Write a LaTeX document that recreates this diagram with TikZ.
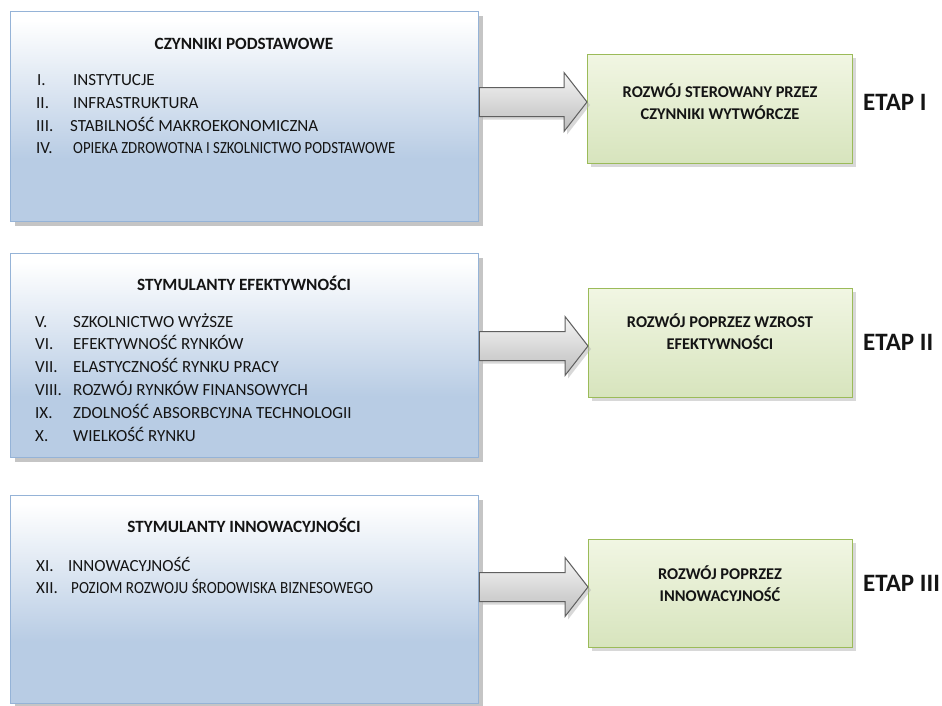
\documentclass[tikz,border=0pt]{standalone}
\usepackage{fontspec}
\setmainfont{Carlito}
\usetikzlibrary{shadows,calc}
\definecolor{blueB}{HTML}{B8CCE4}
\definecolor{blueLine}{HTML}{95B3D7}
\definecolor{greenT}{HTML}{F1F6E3}
\definecolor{greenB}{HTML}{D7E4BD}
\definecolor{greenLine}{HTML}{9BBB59}
\definecolor{arrLine}{HTML}{5F5F5F}
\definecolor{arrB}{HTML}{BDBDBD}
\definecolor{txt}{HTML}{141414}
\pgfdeclareverticalshading{blueshade}{100bp}{color(0bp)=(blueB); color(25bp)=(blueB); color(40bp)=(blueB); color(73bp)=(white); color(100bp)=(white)}
\begin{document}
\begin{tikzpicture}[x=1pt,y=-1pt,
  bluebox/.style={draw=blueLine, line width=1.3pt, shade, shading=blueshade,
    drop shadow={shadow xshift=4pt, shadow yshift=-4pt, fill=black!45},
    anchor=north west, inner sep=0pt},
  greenbox/.style={draw=greenLine, line width=1pt, top color=greenT, bottom color=greenB,
    drop shadow={shadow xshift=3pt, shadow yshift=-3pt, fill=black!30},
    anchor=north west, inner sep=0pt},
  blockarrow/.style={draw=arrLine, line width=1pt, top color=white!96!black, bottom color=arrB,
    drop shadow={shadow xshift=3pt, shadow yshift=-3pt, fill=black!30},
    to path={let \p1=(\tikztostart), \p2=(\tikztotarget) in
      (\x1,\y1+14.5pt) -- (\x2-23pt,\y1+14.5pt) -- (\x2-23pt,\y1+29.5pt) -- (\x2,\y1)
      -- (\x2-23pt,\y1-29.5pt) -- (\x2-23pt,\y1-14.5pt) -- (\x1,\y1-14.5pt) -- cycle}},
  boxtitle/.style={font=\fontsize{17.2}{20}\selectfont\bfseries, text=txt, inner sep=0pt, text height=11pt, text depth=0pt},
  item/.style={font=\fontsize{17}{20}\selectfont, text=txt, anchor=west, inner sep=0pt, text height=11pt, text depth=0pt},
  gtext/.style={font=\fontsize{16.4}{22}\selectfont\bfseries, text=txt, align=center, inner sep=0pt},
  etap/.style={font=\fontsize{25}{28}\selectfont\bfseries, text=txt, anchor=west, inner sep=0pt, text height=16pt, text depth=0pt}
]
\useasboundingbox (0,0) rectangle (942,705);
\fill[white] (0,0) rectangle (942,705);

% left boxes
\node[bluebox, minimum width=468pt, minimum height=210pt] (b1) at (10,11) {};
\node[bluebox, minimum width=468pt, minimum height=204pt] (b2) at (10,253) {};
\node[bluebox, minimum width=468pt, minimum height=208pt] (b3) at (10,495) {};

% right boxes
\node[greenbox, minimum width=265pt, minimum height=109pt] (g1) at (587,54) {};
\node[greenbox, minimum width=264pt, minimum height=109pt] (g2) at (588,288) {};
\node[greenbox, minimum width=264pt, minimum height=108pt] (g3) at (588,539) {};

% arrows
\coordinate (y1) at (0,102);
\coordinate (y2) at (0,346);
\coordinate (y3) at (0,587);
\draw[blockarrow] (b1.east |- y1) to (g1.west |- y1);
\draw[blockarrow] (b2.east |- y2) to (g2.west |- y2);
\draw[blockarrow] (b3.east |- y3) to (g3.west |- y3);

% box 1 text
\node[boxtitle] (t1) at (244,44) {CZYNNIKI PODSTAWOWE};
\node[item] (n1) at (37,80) {I.};
\node[item] (i1) at (73,80) {INSTYTUCJE};
\node[item] (n2) at (36,103) {II.};
\node[item] (i2) at (73,103) {INFRASTRUKTURA};
\node[item] (n3) at (36,126) {III.};
\node[item] (i3) at (70,126) {STABILNOŚĆ MAKROEKONOMICZNA};
\node[item] (n4) at (36,148) {IV.};
\node[item] (i4) at (73,148) {\resizebox{322pt}{\height}{OPIEKA ZDROWOTNA I SZKOLNICTWO PODSTAWOWE}};

% box 2 text
\node[boxtitle] (t2) at (244,285) {STYMULANTY EFEKTYWNOŚCI};
\node[item] (n5) at (35,322) {V.};
\node[item] (i5) at (73,322) {SZKOLNICTWO WYŻSZE};
\node[item] (n6) at (35,344) {VI.};
\node[item] (i6) at (73,344) {EFEKTYWNOŚĆ RYNKÓW};
\node[item] (n7) at (35,367) {VII.};
\node[item] (i7) at (73,367) {ELASTYCZNOŚĆ RYNKU PRACY};
\node[item] (n8) at (35,390) {VIII.};
\node[item] (i8) at (73,390) {ROZWÓJ RYNKÓW FINANSOWYCH};
\node[item] (n9) at (35,413) {IX.};
\node[item] (i9) at (73,413) {ZDOLNOŚĆ ABSORBCYJNA TECHNOLOGII};
\node[item] (n10) at (35,436) {X.};
\node[item] (i10) at (73,436) {WIELKOŚĆ RYNKU};

% box 3 text
\node[boxtitle] (t3) at (244,527) {STYMULANTY INNOWACYJNOŚCI};
\node[item] (n11) at (36,566) {XI.};
\node[item] (i11) at (68,566) {INNOWACYJNOŚĆ};
\node[item] (n12) at (36,588) {XII.};
\node[item] (i12) at (71,588) {\resizebox{302pt}{\height}{POZIOM ROZWOJU ŚRODOWISKA BIZNESOWEGO}};

% green box text
\node[gtext] (gt1) at (720,102) {ROZWÓJ STEROWANY PRZEZ\\CZYNNIKI WYTWÓRCZE};
\node[gtext] (gt2) at (720,331.5) {ROZWÓJ POPRZEZ WZROST\\EFEKTYWNOŚCI};
\node[gtext] (gt3) at (720,584) {ROZWÓJ POPRZEZ\\INNOWACYJNOŚĆ};

% stage labels
\node[etap] (e1) at (863,102) {ETAP I};
\node[etap] (e2) at (863,342) {ETAP II};
\node[etap] (e3) at (863,583) {ETAP III};
\end{tikzpicture}
\end{document}
